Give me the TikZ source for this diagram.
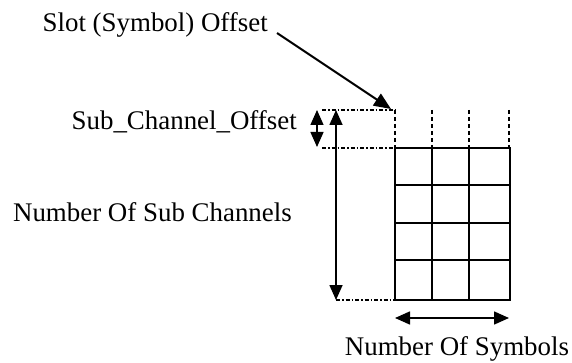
\documentclass[tikz,border=0pt]{standalone}
\usepackage{fontspec}
\setmainfont{Liberation Serif}
\usetikzlibrary{arrows.meta}
\begin{document}
\begin{tikzpicture}[x=1pt,y=-1pt,
  label/.style={font=\fontsize{26.9}{31}\selectfont, inner sep=0pt},
  gridline/.style={line width=1.6pt},
  guide/.style={line width=1.2pt, dash pattern=on 4pt off 2pt on 1.5pt off 2pt},
  colguide/.style={line width=1.2pt, dash pattern=on 4pt off 3pt},
  tip/.style={line width=1.6pt, {Triangle[length=15pt,width=13pt]}-{Triangle[length=15pt,width=13pt]}},
  pointer/.style={line width=2pt, -{Triangle[length=17pt,width=14pt]}}]
\useasboundingbox (0,0) rectangle (572,363);

% grid corners
\coordinate (gTL) at (395,148);
\coordinate (gBR) at (510,300);

% labels
\node[label, anchor=base east] (slot) at (268,32) {Slot (Symbol) Offset};
\node[label, anchor=base east] (subofs) at (297,130) {Sub\_Channel\_Offset};
\node[label, anchor=base east] (nsub) at (292,222) {Number Of Sub Channels};
\node[label, anchor=base] (nsym) at (457,355) {Number Of Symbols};

% symbol/sub-channel grid
\draw[gridline] (gTL) rectangle (gBR);
\foreach \x in {432,469} \draw[line width=1.3pt] (\x,148) -- (\x,300);
\foreach \y in {185,223,260} \draw[line width=1.3pt] (395,\y) -- (510,\y);

% dashed column extensions above the grid
\foreach \x in {395,432,469,509} \draw[colguide] (\x,110) -- (\x,148);

% dotted guides to the dimension arrows
\coordinate (topL) at (322,110);
\coordinate (topR) at (395,110);
\coordinate (midL) at (322,148);
\coordinate (botL) at (336,300);
\coordinate (gBL) at (395,300);
\draw[guide] (topL) -- (topR);
\draw[guide] (midL) -- (gTL);
\draw[guide] (botL) -- (gBL);

% dimension arrows
\coordinate (soT) at (317,110);
\coordinate (soB) at (317,147);
\draw[tip, line width=1.4pt] (soT) -- (soB);
\coordinate (nsT) at (336,110);
\coordinate (nsB) at (336,300);
\draw[tip] (nsT) -- (nsB);
\coordinate (syL) at (395,318);
\coordinate (syR) at (509,318);
\draw[tip] (syL) -- (syR);

% pointer to the slot offset corner
\coordinate (slotStart) at (277,33);
\coordinate (slotTip) at (391,109);
\draw[pointer] (slotStart) -- (slotTip);
\end{tikzpicture}
\end{document}
